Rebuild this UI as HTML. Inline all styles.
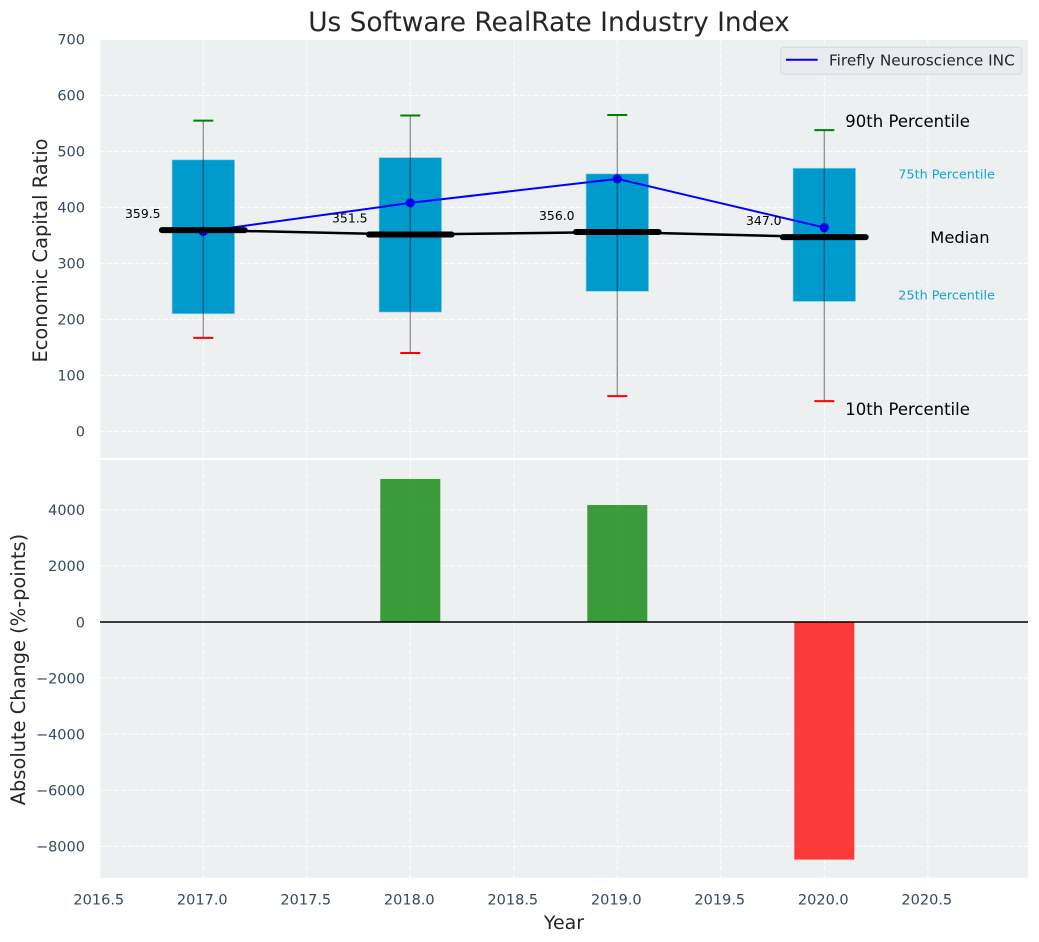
<!DOCTYPE html>
<html lang="en">
<head>
<meta charset="utf-8">
<title>Us Software RealRate Industry Index</title>
<style>
html,body{margin:0;padding:0;background:#fff;}
#chart{display:block;width:1039px;height:942px;font-family:"DejaVu Sans","Liberation Sans",sans-serif;}
</style>
</head>
<body>
<svg id="chart" xmlns="http://www.w3.org/2000/svg" width="1039" height="942" viewBox="0 0 1039 942">
  <rect x="100" y="40" width="928" height="418" fill="#ecf0f1"/>
  <rect x="100" y="460" width="928" height="417.8" fill="#ecf0f1"/>
  <g id="grid"></g>
  <g id="bars"></g>
  <g id="boxes"></g>
  <g id="firefly"></g>
  <g id="medians"></g>
  <g id="whiskers"></g>
  <g id="labels"></g>
  <g id="ticks"></g>
  <text x="549" y="31" text-anchor="middle" font-size="26.4" fill="#262626">Us Software RealRate Industry Index</text>
  <text x="564" y="929" text-anchor="middle" font-size="19" fill="#262626">Year</text>
  <text transform="translate(47 250.5) rotate(-90)" text-anchor="middle" font-size="19.4" fill="#262626">Economic Capital Ratio</text>
  <text transform="translate(25 669.5) rotate(-90)" text-anchor="middle" font-size="19.4" fill="#262626">Absolute Change (%-points)</text>
  <g>
    <rect x="780.7" y="47.3" width="241" height="27" rx="3" fill="#e9ebf0" stroke="#d5d8dc" stroke-width="1"/>
    <line x1="786" y1="59.7" x2="817.7" y2="59.7" stroke="#0000ff" stroke-width="2"/>
    <text x="829" y="65.5" font-size="15.3" fill="#262626">Firefly Neuroscience INC</text>
  </g>
</svg>
<script>
const years = [2017, 2018, 2019, 2020];
const p90 = [555, 564, 565, 538];
const p75 = [485, 489, 460, 470];
const medianValues = [359.5, 351.5, 356.0, 347.0];
const medianLabels = ['359.5', '351.5', '356.0', '347.0'];
const p25 = [210, 213, 250, 232];
const p10 = [167, 140, 63, 54];
const fireflyValues = [357, 408, 451, 364];
const changeYears = [2018, 2019, 2020];
const changeValues = [5100, 4170, -8470];
const xTicks = [2016.5, 2017, 2017.5, 2018, 2018.5, 2019, 2019.5, 2020, 2020.5];
const xTickLabels = ['2016.5', '2017.0', '2017.5', '2018.0', '2018.5', '2019.0', '2019.5', '2020.0', '2020.5'];
const topTicks = [0, 100, 200, 300, 400, 500, 600, 700];
const bottomTicks = [-8000, -6000, -4000, -2000, 0, 2000, 4000];

const NS = 'http://www.w3.org/2000/svg';
const xScale = v => 203.3 + (v - 2017) * 207;
const yTop = v => 431.4 - v * 0.56;
const yBottom = v => 622 - v * 0.02805;

function make(tag, parentId, attrs, content) {
  const el = document.createElementNS(NS, tag);
  for (const k in attrs) el.setAttribute(k, attrs[k]);
  if (content !== undefined) el.textContent = content;
  document.getElementById(parentId).appendChild(el);
  return el;
}
const gridStyle = {stroke: '#ffffff', 'stroke-width': 1.1, 'stroke-dasharray': '5 2', 'stroke-opacity': 0.85};
const tickFont = {'font-size': 14.5, fill: '#34495e'};

xTicks.forEach((t, i) => {
  const g1 = make('line', 'grid', {x1: xScale(t), x2: xScale(t), y1: 40, y2: 458, ...gridStyle});
  
  
  const g2 = make('line', 'grid', {x1: xScale(t), x2: xScale(t), y1: 460, y2: 877.8, ...gridStyle});
  
  
  const lab = make('text', 'ticks', {x: xScale(t) - 1, y: 904.5, 'text-anchor': 'middle', ...tickFont}, xTickLabels[i]);
  
  
});
topTicks.forEach(t => {
  const g = make('line', 'grid', {x1: 100, x2: 1028, y1: yTop(t), y2: yTop(t), ...gridStyle});
  
  
  const lab = make('text', 'ticks', {x: 85, y: yTop(t) + 5.3, 'text-anchor': 'end', ...tickFont}, String(t));
  
  
});
bottomTicks.forEach(t => {
  const g = make('line', 'grid', {x1: 100, x2: 1028, y1: yBottom(t), y2: yBottom(t), ...gridStyle});
  
  
  const text = t < 0 ? '\u2212' + Math.abs(t) : String(t);
  const lab = make('text', 'ticks', {x: 85, y: yBottom(t) + 5.3, 'text-anchor': 'end', ...tickFont}, text);
  
  
});

changeYears.forEach((yr, i) => {
  const v = changeValues[i];
  const top = Math.min(yBottom(v), yBottom(0));
  const h = Math.abs(yBottom(v) - yBottom(0));
  const bar = make('rect', 'bars', {
    x: xScale(yr) - 30, y: top, width: 60, height: h,
    fill: v >= 0 ? '#008000' : '#ff0000', 'fill-opacity': 0.76
  });
  
  
});
const zeroLine = make('line', 'bars', {x1: 100, x2: 1028, y1: yBottom(0), y2: yBottom(0), stroke: '#000', 'stroke-width': 1.5});



years.forEach((yr, i) => {
  const box = make('rect', 'boxes', {
    x: xScale(yr) - 31.3, y: yTop(p75[i]), width: 62.6, height: yTop(p25[i]) - yTop(p75[i]),
    fill: '#009acd', stroke: '#9fd3e6', 'stroke-width': 0.7
  });
  
  

  const stem = make('line', 'whiskers', {
    x1: xScale(yr), x2: xScale(yr), y1: yTop(p90[i]), y2: yTop(p10[i]),
    stroke: '#000', 'stroke-opacity': 0.42, 'stroke-width': 1.3
  });
  
  

  const capHigh = make('line', 'whiskers', {
    x1: xScale(yr) - 10, x2: xScale(yr) + 10, y1: yTop(p90[i]), y2: yTop(p90[i]),
    stroke: '#008000', 'stroke-width': 2
  });
  
  

  const capLow = make('line', 'whiskers', {
    x1: xScale(yr) - 10, x2: xScale(yr) + 10, y1: yTop(p10[i]), y2: yTop(p10[i]),
    stroke: '#ff0000', 'stroke-width': 2
  });
  
  

  const dot = make('circle', 'firefly', {cx: xScale(yr), cy: yTop(fireflyValues[i]), r: 4.6, fill: '#0000ff'});
  
  

  const med = make('line', 'medians', {
    x1: xScale(yr) - 41.4, x2: xScale(yr) + 41.4, y1: yTop(medianValues[i]), y2: yTop(medianValues[i]),
    stroke: '#000', 'stroke-width': 6, 'stroke-linecap': 'round'
  });
  
  

  const lab = make('text', 'labels', {
    x: xScale(yr) - 60.5, y: yTop(medianValues[i]) - 12, 'text-anchor': 'middle', 'font-size': 12.4, fill: '#000'
  }, medianLabels[i]);
  
  
});

const fireflyLine = make('polyline', 'firefly', {
  points: years.map((yr, i) => xScale(yr) + ',' + yTop(fireflyValues[i])).join(' '),
  fill: 'none', stroke: '#0000ff', 'stroke-width': 2
});



const medianLine = make('polyline', 'medians', {
  points: years.map((yr, i) => xScale(yr) + ',' + yTop(medianValues[i])).join(' '),
  fill: 'none', stroke: '#000', 'stroke-width': 2.5
});



const last = years.length - 1;
const lastX = xScale(years[last]);
const label90 = make('text', 'labels', {x: lastX + 21, y: yTop(p90[last]) - 3, 'font-size': 16.5, fill: '#000'}, '90th Percentile');


const label75 = make('text', 'labels', {x: lastX + 74, y: yTop(p75[last]) + 10.5, 'font-size': 12.8, fill: '#16a3cf'}, '75th Percentile');


const labelMedian = make('text', 'labels', {x: lastX + 106, y: yTop(medianValues[last]) + 6, 'font-size': 16.3, fill: '#000'}, 'Median');


const label25 = make('text', 'labels', {x: lastX + 74, y: yTop(p25[last]) - 2, 'font-size': 12.8, fill: '#16a3cf'}, '25th Percentile');


const label10 = make('text', 'labels', {x: lastX + 21, y: yTop(p10[last]) + 14, 'font-size': 16.5, fill: '#000'}, '10th Percentile');


</script>
</body>
</html>
